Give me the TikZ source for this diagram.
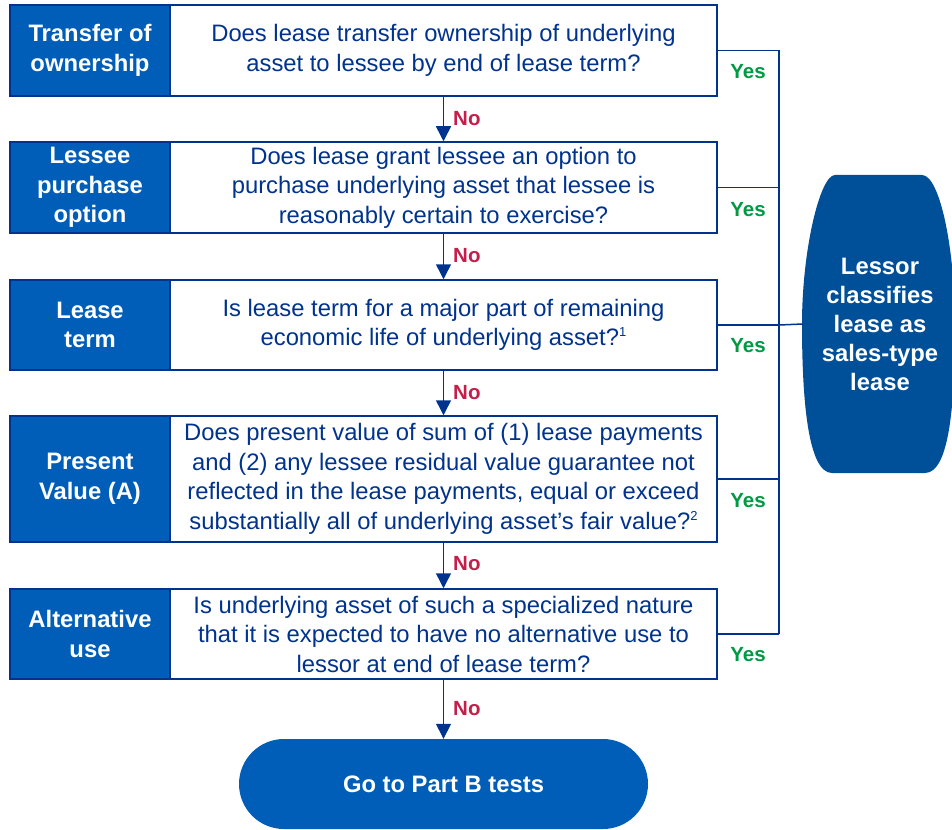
\documentclass[tikz,border=0pt]{standalone}
\usepackage{fontspec}
\setmainfont{Liberation Sans}
\usetikzlibrary{arrows.meta}
\definecolor{kblue}{HTML}{005EB8}
\definecolor{kdark}{HTML}{00338D}
\definecolor{kdeep}{HTML}{005099}
\definecolor{kred}{HTML}{C41E4A}
\definecolor{kgreen}{HTML}{009A44}
\newcommand{\fnote}[1]{\raisebox{9pt}{\fontsize{13}{13}\selectfont #1}}
\begin{document}
\begin{tikzpicture}[x=1pt,y=-1pt,
  lab/.style={fill=kblue, draw=kdark, line width=1.5pt, text=white,
    font=\fontsize{23.8}{29.5}\selectfont\bfseries, align=center,
    minimum width=160pt, inner sep=0pt},
  ques/.style={fill=white, draw=kdark, line width=1.5pt, text=kdark,
    font=\fontsize{23.8}{29.5}\selectfont, align=center,
    minimum width=547pt, inner sep=0pt},
  yes/.style={text=kgreen, font=\fontsize{20.5}{24}\selectfont\bfseries, inner sep=0pt},
  nolab/.style={text=kred, font=\fontsize{20.5}{24}\selectfont\bfseries, anchor=west, inner sep=0pt},
  link/.style={draw=kdark, line width=1.5pt},
  arr/.style={link, -{Triangle[width=15pt,length=15pt]}}]
\useasboundingbox (0,0) rectangle (952,829);

% rows
\node[lab, minimum height=91pt] (l1) at (90,50.5) {Transfer of\\ownership};
\node[ques, minimum height=91pt] (q1) at (443.5,50.5) {Does lease transfer ownership of underlying\\asset to lessee by end of lease term?};

\node[lab, minimum height=91pt] (l2) at (90,187.5) {Lessee\\purchase\\option};
\node[ques, minimum height=91pt] (q2) at (443.5,187.5) {Does lease grant lessee an option to\\purchase underlying asset that lessee is\\reasonably certain to exercise?};

\node[lab, minimum height=90pt] (l3) at (90,325) {Lease\\term};
\node[ques, minimum height=90pt] (q3) at (443.5,325) {Is lease term for a major part of remaining\\economic life of underlying asset?\fnote{1}};

\node[lab, minimum height=126pt] (l4) at (90,479) {Present\\Value (A)};
\node[ques, minimum height=126pt] (q4) at (443.5,479) {Does present value of sum of (1) lease payments\\and (2) any lessee residual value guarantee not\\reflected in the lease payments, equal or exceed\\substantially all of underlying asset’s fair value?\fnote{2}};

\node[lab, minimum height=90pt] (l5) at (90,634) {Alternative\\use};
\node[ques, minimum height=90pt] (q5) at (443.5,634) {Is underlying asset of such a specialized nature\\that it is expected to have no alternative use to\\lessor at end of lease term?};

% terminal
\node[fill=kblue, rounded corners=45pt, minimum width=409pt, minimum height=90pt,
  text=white, font=\fontsize{23.8}{29.5}\selectfont\bfseries, inner sep=0pt] (term) at (443.5,784) {Go to Part B tests};

% oval
\fill[kdeep] (835,175) -- (922,175)
  .. controls (940,175) and (955,250) .. (955,324)
  .. controls (955,400) and (950,473) .. (925,473) -- (832,473)
  .. controls (808,473) and (802,400) .. (802,324)
  .. controls (802,250) and (820,175) .. (835,175) -- cycle;
\node[text=white, font=\fontsize{23.8}{29}\selectfont\bfseries, align=center, inner sep=0pt] (cls) at (880,324) {Lessor\\classifies\\lease as\\sales-type\\lease};
\coordinate (ovl) at (803,324);

% down arrows
\draw[arr] (q1.south) -- (q2.north);
\draw[arr] (q2.south) -- (q3.north);
\draw[arr] (q3.south) -- (q4.north);
\draw[arr] (q4.south) -- (q5.north);
\draw[arr] (q5.south) -- (term.north);

\node[nolab] (n1) at (453,119) {No};
\node[nolab] (n2) at (453,256) {No};
\node[nolab] (n3) at (453,393) {No};
\node[nolab] (n4) at (453,564) {No};
\node[nolab] (n5) at (453,709) {No};

% yes bus
\coordinate (b1) at (779,50.5);
\coordinate (b2) at (779,187.5);
\coordinate (b3) at (779,325);
\coordinate (b4) at (779,479);
\coordinate (b5) at (779,634);
\draw[link] (q1.east) -- (b1);
\draw[link] (q2.east) -- (b2);
\draw[link] (q3.east) -- (b3);
\draw[link] (q4.east) -- (b4);
\draw[link] (q5.east) -- (b5);
\draw[link] (b1) -- (b5);
\draw[link] (b3) -- (ovl);

\node[yes] (y1) at (748,72) {Yes};
\node[yes] (y2) at (748,210) {Yes};
\node[yes] (y3) at (748,346) {Yes};
\node[yes] (y4) at (748,501) {Yes};
\node[yes] (y5) at (748,655) {Yes};
\end{tikzpicture}
\end{document}
